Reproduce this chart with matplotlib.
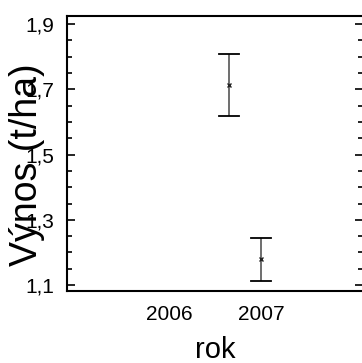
import numpy as np
import matplotlib.pyplot as plt
from matplotlib.ticker import MultipleLocator, FuncFormatter

plt.rcParams['font.family'] = ['Liberation Sans', 'DejaVu Sans']

# průměrný výnos a odchylka podle roku
roky = [2006, 2007]
x_pozice = [2006.65, 2007.0]
vynos = [1.713, 1.179]
chyba = [0.095, 0.066]

fig = plt.figure(figsize=(3.62, 3.63), dpi=100)
ax = fig.add_axes([0.185, 0.198, 0.818, 0.758])

ax.errorbar(x_pozice, vynos, yerr=chyba, fmt='none', ecolor='#555555',
            elinewidth=1.2, capsize=0)
# černé zakončení chybových úseček
for x, y, e in zip(x_pozice, vynos, chyba):
    ax.plot([x - 0.11, x + 0.11], [y + e, y + e], color='black', lw=1.3)
    ax.plot([x - 0.11, x + 0.11], [y - e, y - e], color='black', lw=1.3)
ax.plot(x_pozice, vynos, 'x', color='#222222', markersize=3, mew=1)

ax.set_xlim(2004.89, 2008.11)
ax.set_ylim(1.0816, 1.9245)
ax.set_xticks(roky)
ax.set_xticklabels([str(r) for r in roky])
ax.yaxis.set_minor_locator(MultipleLocator(0.05))
ax.set_yticks([1.1, 1.3, 1.5, 1.7, 1.9])
ax.yaxis.set_major_formatter(FuncFormatter(lambda v, p: f'{v:.1f}'.replace('.', ',')))

ax.tick_params(axis='y', which='both', direction='in', left=True, right=True,
               labelsize=15, pad=9.5)
ax.tick_params(axis='y', which='major', length=6, width=1.2)
ax.tick_params(axis='y', which='minor', length=3.5, width=1.2)
ax.tick_params(axis='x', which='both', length=0, labelsize=15, pad=10)

for s in ax.spines.values():
    s.set_linewidth(1.5)

ax.set_xlabel('rok', fontsize=21, labelpad=8.5)
ax.set_ylabel('Výnos (t/ha)', fontsize=27)
ax.yaxis.set_label_coords(-0.075, 0.46)

fig.savefig('out.png', dpi=100)
